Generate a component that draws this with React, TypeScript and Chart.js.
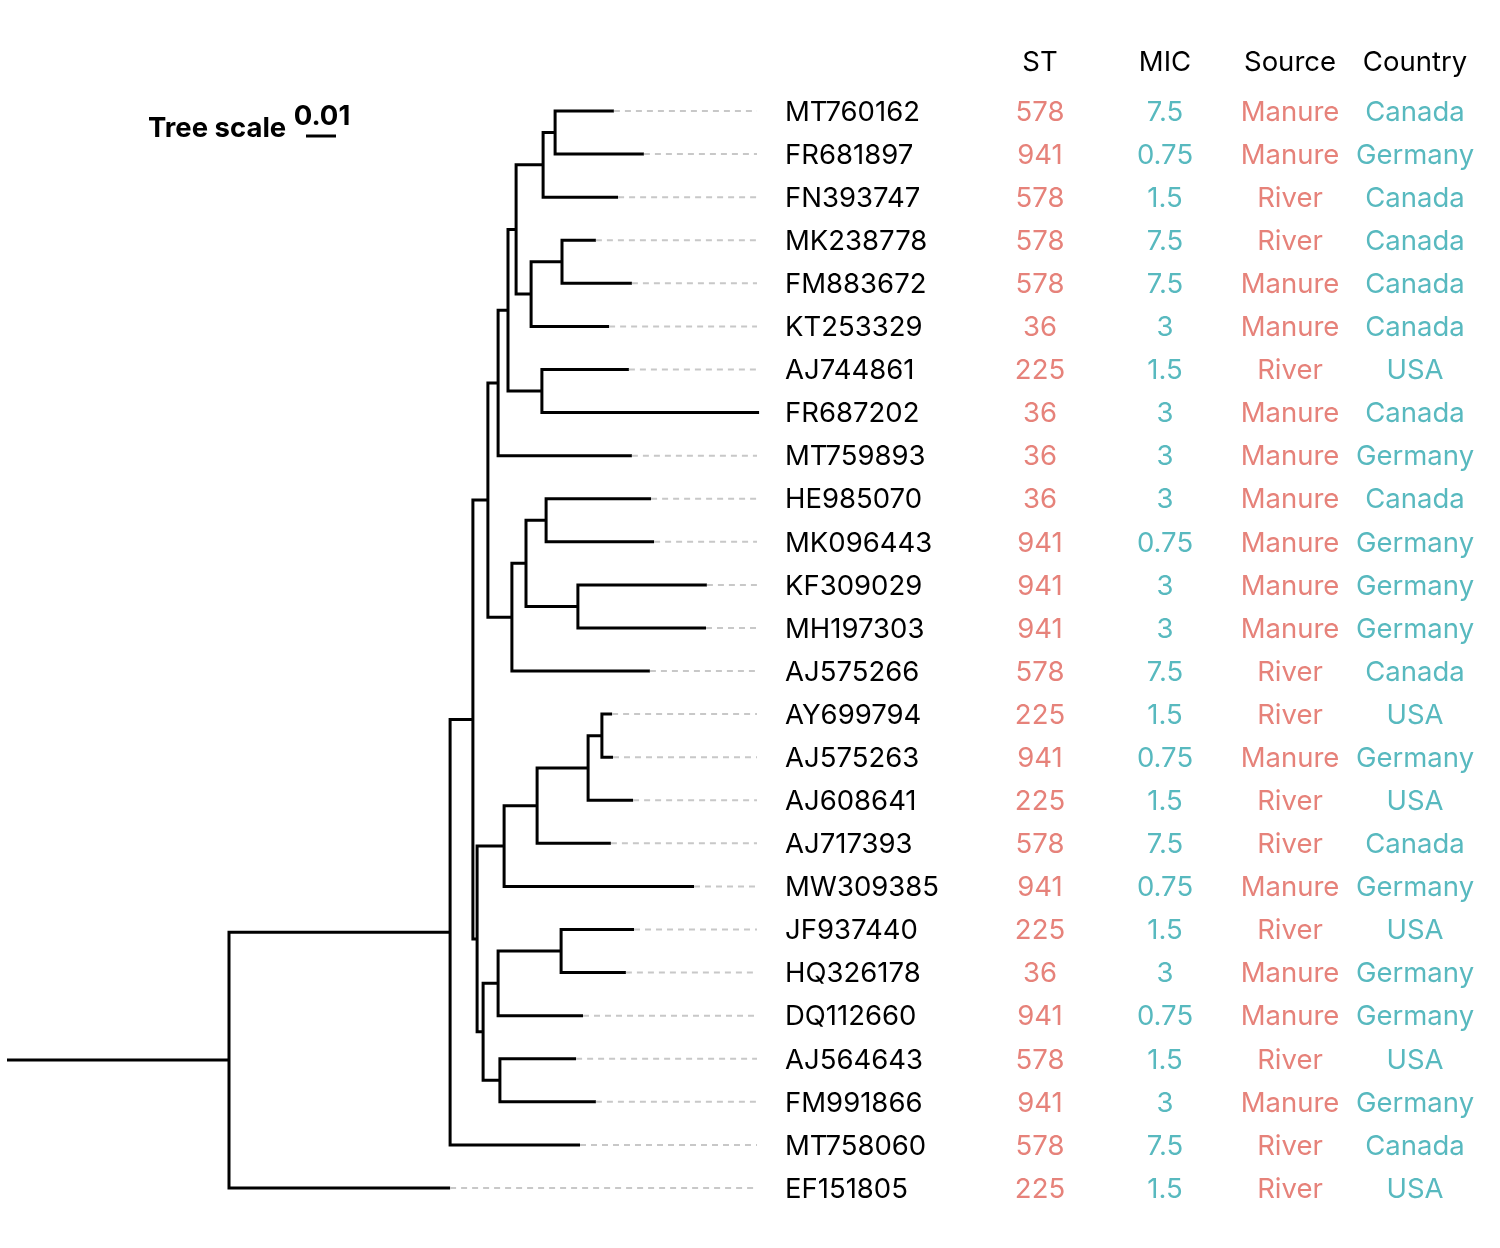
import React, { useEffect, useRef } from "react";
import { Chart, registerables } from "chart.js";

Chart.register(...registerables);

// ---------- DATA ----------
const tipNames = [
  "MT760162", "FR681897", "FN393747", "MK238778", "FM883672", "KT253329",
  "AJ744861", "FR687202", "MT759893", "HE985070", "MK096443", "KF309029",
  "MH197303", "AJ575266", "AY699794", "AJ575263", "AJ608641", "AJ717393",
  "MW309385", "JF937440", "HQ326178", "DQ112660", "AJ564643", "FM991866",
  "MT758060", "EF151805",
];
const tipParent = [
  "A", "A", "B", "E", "E", "D", "F", "F", "H", "M", "M", "N", "N", "J",
  "V", "V", "U", "T", "R", "Y", "Y", "W", "X", "X", "Q", "Z",
];
// cumulative distance from the root node (substitutions per site)
const tipDepth = [
  0.1283, 0.1383, 0.1297, 0.1223, 0.1343, 0.1267, 0.1333, 0.1767, 0.1343,
  0.1407, 0.1417, 0.1593, 0.1590, 0.1403, 0.1277, 0.1280, 0.1347, 0.1273,
  0.1550, 0.1350, 0.1323, 0.1180, 0.1157, 0.1223, 0.1170, 0.0737,
];
const nodeNames = [
  "Z", "Q", "K", "I", "H", "G", "C", "B", "A", "D", "E", "F", "J", "L",
  "M", "N", "P", "R", "T", "U", "V", "S", "W", "Y", "X",
];
const nodeParent = [
  "", "Z", "Q", "K", "I", "H", "G", "C", "B", "C", "D", "G", "I", "J",
  "L", "L", "K", "P", "R", "T", "U", "P", "S", "W", "S",
];
const nodeDepth = [
  0.0, 0.0737, 0.0813, 0.0863, 0.0897, 0.093, 0.0957, 0.1047, 0.1087,
  0.1007, 0.111, 0.1043, 0.0943, 0.099, 0.1057, 0.1163, 0.0827, 0.0917,
  0.1027, 0.1197, 0.1243, 0.0847, 0.0897, 0.1107, 0.0903,
];
const rootStemLength = 0.074;
const alignDepth = 0.176;
const treeScaleLength = 0.01;
const treeScaleLabel = "0.01";

const columnHeaders = ["ST", "MIC", "Source", "Country"];
const stValues = [
  "578", "941", "578", "578", "578", "36", "225", "36", "36", "36", "941",
  "941", "941", "578", "225", "941", "225", "578", "941", "225", "36",
  "941", "578", "941", "578", "225",
];
const micValues = [
  "7.5", "0.75", "1.5", "7.5", "7.5", "3", "1.5", "3", "3", "3", "0.75",
  "3", "3", "7.5", "1.5", "0.75", "1.5", "7.5", "0.75", "1.5", "3", "0.75",
  "1.5", "3", "7.5", "1.5",
];
const sourceValues = [
  "Manure", "Manure", "River", "River", "Manure", "Manure", "River",
  "Manure", "Manure", "Manure", "Manure", "Manure", "Manure", "River",
  "River", "Manure", "River", "River", "Manure", "River", "Manure",
  "Manure", "River", "Manure", "River", "River",
];
const countryValues = [
  "Canada", "Germany", "Canada", "Canada", "Canada", "Canada", "USA",
  "Canada", "Germany", "Canada", "Germany", "Germany", "Germany", "Canada",
  "USA", "Germany", "USA", "Canada", "Germany", "USA", "Germany", "Germany",
  "USA", "Germany", "Canada", "USA",
];

// ---------- LAYOUT / STYLE ----------
const W = 1500;
const H = 1248;
const PX_PER_UNIT = 3000;
const ROOT_PX = 229;
const ROW0_PX = 111;
const ROW_STEP = (1188 - 111) / 25;
const LABEL_PX = 785;
const COLUMN_PX = [1040, 1165, 1290, 1415];
const HEADER_PX_Y = 63;
const TEXT_DY = 1.5;
const RED = "#E6827A";
const TEAL = "#58B9BF";
const FONT = "Inter, 'Noto Sans', sans-serif";
const FONT_SIZE = 27.5;

function buildTree() {
  const depth: Record<string, number> = {};
  const ycoord: Record<string, number> = {};
  const children: Record<string, string[]> = {};
  nodeNames.forEach((n, i) => {
    depth[n] = nodeDepth[i];
    children[n] = [];
  });
  tipNames.forEach((t, i) => {
    depth[t] = tipDepth[i];
    ycoord[t] = i;
    children[tipParent[i]].push(t);
  });
  nodeNames.forEach((n, i) => {
    if (nodeParent[i]) children[nodeParent[i]].push(n);
  });
  const getY = (n: string): number => {
    if (ycoord[n] !== undefined) return ycoord[n];
    const ys = children[n].map(getY);
    ycoord[n] = (Math.min(...ys) + Math.max(...ys)) / 2;
    return ycoord[n];
  };
  nodeNames.forEach(getY);
  return { depth, ycoord, children };
}

export default function App() {
  const ref = useRef<HTMLCanvasElement | null>(null);

  useEffect(() => {
    if (!ref.current) return;
    const { depth, ycoord, children } = buildTree();
    const datasets: any[] = [];
    const treeStyle = {
      type: "line",
      borderColor: "#000",
      borderWidth: 3,
      pointRadius: 0,
      fill: false,
      tension: 0,
      borderJoinStyle: "miter",
      borderCapStyle: "butt",
    };
    // dashed alignment lines (drawn first, under tree)
    tipNames.forEach((t, i) => {
      if (tipDepth[i] < alignDepth) {
        datasets.push({
          type: "line",
          data: [
            { x: tipDepth[i], y: i },
            { x: alignDepth, y: i },
          ],
          borderColor: "#C8C8C8",
          borderWidth: 2,
          borderDash: [6, 5],
          pointRadius: 0,
          fill: false,
        });
      }
    });
    // brackets
    nodeNames.forEach((n) => {
      const ch = [...children[n]].sort((a, b) => ycoord[a] - ycoord[b]);
      const c1 = ch[0];
      const c2 = ch[ch.length - 1];
      datasets.push({
        ...treeStyle,
        data: [
          { x: depth[c1], y: ycoord[c1] },
          { x: depth[n], y: ycoord[c1] },
          { x: depth[n], y: ycoord[c2] },
          { x: depth[c2], y: ycoord[c2] },
        ],
      });
    });
    // root stem
    datasets.push({
      ...treeStyle,
      data: [
        { x: -rootStemLength, y: ycoord["Z"] },
        { x: 0, y: ycoord["Z"] },
      ],
    });
    // tree scale bar
    const sbStart = (306 - ROOT_PX) / PX_PER_UNIT;
    const sbRow = (136 - ROW0_PX) / ROW_STEP;
    datasets.push({
      ...treeStyle,
      data: [
        { x: sbStart, y: sbRow },
        { x: sbStart + treeScaleLength, y: sbRow },
      ],
    });

    const textPlugin = {
      id: "treeText",
      afterDatasetsDraw(chart: any) {
        const { ctx, scales } = chart;
        const xs = scales.x;
        const ys = scales.y;
        ctx.save();
        ctx.textBaseline = "middle";
        // header
        ctx.font = `${FONT_SIZE}px ${FONT}`;
        ctx.fillStyle = "#000";
        ctx.textAlign = "center";
        columnHeaders.forEach((h, c) => {
          ctx.fillText(h, COLUMN_PX[c], HEADER_PX_Y);
        });
        // tip labels
        ctx.textAlign = "left";
        tipNames.forEach((t, i) => {
          ctx.fillText(t, LABEL_PX, ys.getPixelForValue(i) + TEXT_DY);
        });
        // columns
        ctx.textAlign = "center";
        const cols = [stValues, micValues, sourceValues, countryValues];
        const colors = [RED, TEAL, RED, TEAL];
        cols.forEach((vals, c) => {
          ctx.fillStyle = colors[c];
          vals.forEach((v, i) => {
            ctx.fillText(v, COLUMN_PX[c], ys.getPixelForValue(i) + TEXT_DY);
          });
        });
        // tree scale
        ctx.fillStyle = "#000";
        ctx.font = `bold ${FONT_SIZE}px ${FONT}`;
        ctx.textBaseline = "alphabetic";
        ctx.textAlign = "left";
        ctx.fillText("Tree scale", 148, 137);
        ctx.textAlign = "center";
        const cx =
          (xs.getPixelForValue(sbStart) +
            xs.getPixelForValue(sbStart + treeScaleLength)) /
          2;
        ctx.fillText(treeScaleLabel, cx + 1, 125);
        ctx.restore();
      },
    };

    const chart = new Chart(ref.current, {
      type: "line",
      data: { datasets },
      options: {
        responsive: false,
        animation: false,
        events: [],
        layout: { padding: 0 },
        plugins: { legend: { display: false }, tooltip: { enabled: false } },
        scales: {
          x: {
            type: "linear",
            display: false,
            min: -ROOT_PX / PX_PER_UNIT,
            max: (W - ROOT_PX) / PX_PER_UNIT,
          },
          y: {
            type: "linear",
            display: false,
            reverse: true,
            min: -ROW0_PX / ROW_STEP,
            max: (H - ROW0_PX) / ROW_STEP,
          },
        },
      },
      plugins: [textPlugin],
    } as any);
    return () => chart.destroy();
  }, []);

  return (
    <div
      style={{
        position: "absolute",
        left: 0,
        top: 0,
        width: W,
        height: H,
        background: "#fff",
      }}
    >
      <canvas ref={ref} width={W} height={H} style={{ display: "block" }} />
    </div>
  );
}
